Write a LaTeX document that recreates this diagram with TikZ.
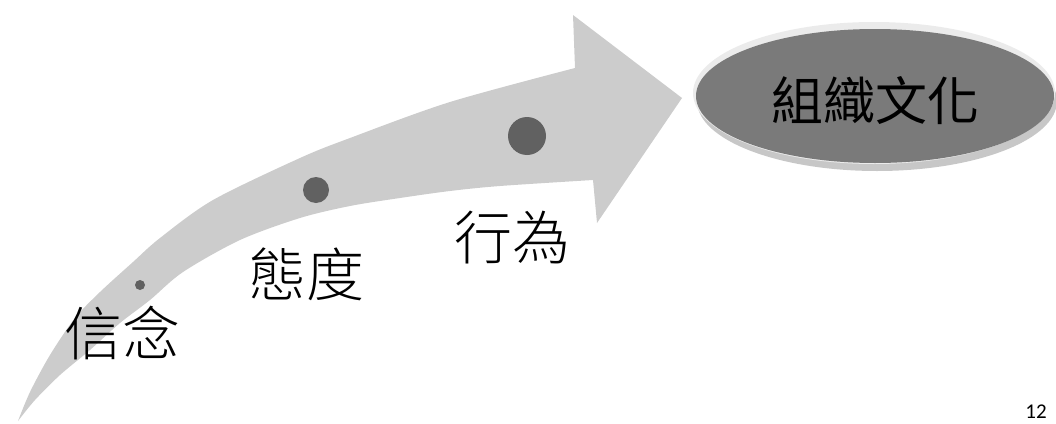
\documentclass[tikz,border=0pt]{standalone}
\usepackage{fontspec}
\usetikzlibrary{shapes.geometric}
\newfontfamily\cjk{Noto Sans CJK TC}[UprightFont=* Light]
\newfontfamily\cjkreg{Noto Sans CJK TC}
\newfontfamily\numfont{Carlito}
\begin{document}
\begin{tikzpicture}[x=1pt,y=-1pt,
  label/.style={font=\cjk\fontsize{58}{58}\selectfont, inner sep=0pt, text=black},
  dot/.style={circle, fill=black!62, inner sep=0pt},
  arrowfill/.style={fill=black!20}]
\useasboundingbox (0,0) rectangle (1056,423);
% big curved arrow
\fill[arrowfill]
  plot[smooth, tension=0.5] coordinates {(18,421) (30,392) (50,355) (75,318) (100,292) (133,262) (160,238) (213,200) (300,158) (350,138) (450,102) (575,68)}
  -- (573,15) -- (682,98) -- (597,223) -- (593,180)
  -- plot[smooth, tension=0.5] coordinates {(593,180) (500,186) (450,191) (400,198) (350,206) (300,218) (240,240) (183,272) (150,300) (120,323) (90,350) (60,375) (35,400) (18,421)}
  -- cycle;
% dots on the arrow
\node[dot, minimum size=10pt] (d1) at (140,285) {};
\node[dot, minimum size=26pt] (d2) at (316,190) {};
\node[dot, minimum size=38pt] (d3) at (527,136) {};
% labels
\node[label] (belief) at (122,333) {信念};
\node[label] (attitude) at (306,274) {態度};
\node[label] (behavior) at (512,238) {行為};
% organisational culture ellipse
\fill[black!22] (877,101) ellipse [x radius=180, y radius=70];
\fill[black!8] (874,93) ellipse [x radius=181, y radius=71];
\node[ellipse, draw=none, fill=black!52, minimum width=358pt, minimum height=134pt, inner sep=0pt] (culture) at (875,96) {};
\node[font=\cjkreg\fontsize{52}{52}\selectfont, inner sep=0pt] (culturetext) at (875,101) {組織文化};
% page number
\node[font=\numfont\fontsize{21}{21}\selectfont, inner sep=0pt, anchor=base] (pagenum) at (1036,418) {12};
\end{tikzpicture}
\end{document}
